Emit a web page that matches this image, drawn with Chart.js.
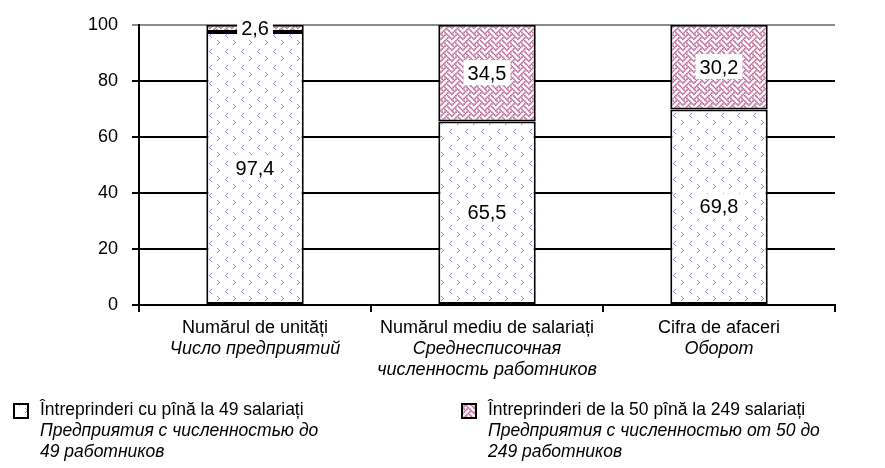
<!DOCTYPE html>
<html>
<head>
<meta charset="utf-8">
<script src="https://cdn.jsdelivr.net/npm/chart.js@4.4.1/dist/chart.umd.min.js"></script>
<style>
  html, body { margin: 0; padding: 0; background: #fff; }
  #wrap { width: 885px; height: 468px; position: relative; }
</style>
</head>
<body>
<div id="wrap"><canvas id="myChart" width="885" height="468"></canvas></div>
<script>
// data
const categories_ro = ['Numărul de unități', 'Numărul mediu de salariați', 'Cifra de afaceri'];
const categories_ru = [['Число предприятий'], ['Среднесписочная', 'численность работников'], ['Оборот']];
const small_firms = [97.4, 65.5, 69.8];
const medium_firms = [2.6, 34.5, 30.2];
const legend_ro = ['Întreprinderi cu pînă la 49 salariați', 'Întreprinderi de la 50 pînă la 249 salariați'];
const legend_ru = [['Предприятия с численностью до', '49 работников'], ['Предприятия с численностью от 50 до', '249 работников']];
const y_ticks = [0, 20, 40, 60, 80, 100];

const FONT = '"Liberation Sans", Arial, sans-serif';

const makeTile = (size, scale, dot, color, bits) => {
  const c = document.createElement('canvas');
  c.width = size; c.height = size;
  const g = c.getContext('2d');
  g.fillStyle = '#fff';
  g.fillRect(0, 0, size, size);
  g.fillStyle = color;
  bits.forEach((row, y) => {
    [...row].forEach((b, x) => {
      if (b == '1') {
        // draw with wrap so the tile repeats cleanly
        for (const ox of [0, -size]) for (const oy of [0, -size]) {
          g.fillRect(x * scale + ox, y * scale + oy, dot, dot);
        }
      }
    });
  });
  return c;
};

// blue chevrons < and >
const dotsTile = makeTile(16, 1, 1, '#8484ff', [
  '0000000000000000',
  '0001000000000000',
  '0010000000000000',
  '0100000000000000',
  '0010000000000000',
  '0001000000000000',
  '0000000000000000',
  '0000000000000000',
  '0000000001000000',
  '0000000000100000',
  '0000000000010000',
  '0000000000100000',
  '0000000001000000',
  '0000000000000000',
  '0000000000000000',
  '0000000000000000'
]);
// pink weave
const weaveTile = makeTile(11, 1.375, 1.7, '#bc6a9a', [
  '10001000',
  '01010100',
  '00100010',
  '01000101',
  '10001000',
  '00010100',
  '00100010',
  '01010001'
]);

const ctx = document.getElementById('myChart').getContext('2d');
const dotsPattern = ctx.createPattern(dotsTile, 'repeat');
const weavePattern = ctx.createPattern(weaveTile, 'repeat');

const fmt = (v) => v.toFixed(1).replace('.', ',');

const valueLabels = {
  id: 'valueLabels',
  afterDatasetsDraw(chart) {
    const c = chart.ctx;
    c.save();
    c.font = '20px ' + FONT;
    c.textAlign = 'center';
    c.textBaseline = 'middle';
    chart.data.datasets.forEach((ds, i) => {
      chart.getDatasetMeta(i).data.forEach((bar, j) => {
        const p = bar.getProps(['x', 'y', 'base'], true);
        const cy = (p.y + p.base) / 2;
        const text = fmt(ds.data[j]);
        const w = c.measureText(text).width + 8;
        c.fillStyle = '#fff';
        c.fillRect(p.x - w / 2, cy - 13, w, 25);
        c.fillStyle = '#000';
        c.fillText(text, p.x, cy + 1);
      });
    });
    c.restore();
  }
};

const bottomTexts = {
  id: 'bottomTexts',
  afterDraw(chart) {
    const c = chart.ctx;
    const x = chart.scales.x;
    c.save();
    c.fillStyle = '#000';
    c.textBaseline = 'middle';
    c.textAlign = 'center';
    categories_ro.forEach((name, i) => {
      const cx = x.getPixelForValue(i);
      c.font = '18px ' + FONT;
      c.fillText(name, cx, 328);
      c.font = 'italic 18px ' + FONT;
      categories_ru[i].forEach((line, k) => c.fillText(line, cx, 349 + k * 21));
    });
    // legend
    const lx = [14, 462];
    const fills = [dotsPattern, weavePattern];
    c.textAlign = 'left';
    legend_ro.forEach((name, i) => {
      c.fillStyle = fills[i];
      c.fillRect(lx[i], 404, 14, 14);
      c.strokeStyle = '#000';
      c.lineWidth = 2;
      c.strokeRect(lx[i], 404, 14, 14);
      c.fillStyle = '#000';
      c.font = '17.5px ' + FONT;
      c.fillText(name, lx[i] + 26, 410);
      c.font = 'italic 17.5px ' + FONT;
      legend_ru[i].forEach((line, k) => c.fillText(line, lx[i] + 26, 431 + k * 21));
    });
    c.restore();
  }
};

const myChart = new Chart(ctx, {
  type: 'bar',
  data: {
    labels: categories_ro,
    datasets: [
      {
        label: legend_ro[0],
        data: small_firms,
        backgroundColor: dotsPattern,
        borderColor: '#000',
        borderWidth: 2,
        borderSkipped: false,
        barPercentage: 0.42,
        categoryPercentage: 1
      },
      {
        label: legend_ro[1],
        data: medium_firms,
        backgroundColor: weavePattern,
        borderColor: '#000',
        borderWidth: 2,
        borderSkipped: false,
        barPercentage: 0.42,
        categoryPercentage: 1
      }
    ]
  },
  options: {
    responsive: false,
    animation: false,
    layout: { padding: { left: 74, right: 50, top: 14, bottom: 156 } },
    plugins: { legend: { display: false }, tooltip: { enabled: false } },
    scales: {
      x: {
        stacked: true,
        offset: true,
        grid: { offset: true, drawOnChartArea: false, color: '#000', lineWidth: 2, tickLength: 7 },
        border: { color: '#000', width: 2 },
        ticks: { display: false }
      },
      y: {
        stacked: true,
        min: 0,
        max: 100,
        afterBuildTicks: (axis) => { axis.ticks = y_ticks.map(v => ({ value: v })); },
        grid: {
          color: (c) => c.tick && c.tick.value == 100 ? '#8c8c8c' : '#000',
          lineWidth: 2,
          tickLength: 7
        },
        border: { color: '#000', width: 2 },
        ticks: { color: '#000', padding: 14, font: { family: FONT, size: 18 } }
      }
    }
  },
  plugins: [valueLabels, bottomTexts]
});
</script>
</body>
</html>
